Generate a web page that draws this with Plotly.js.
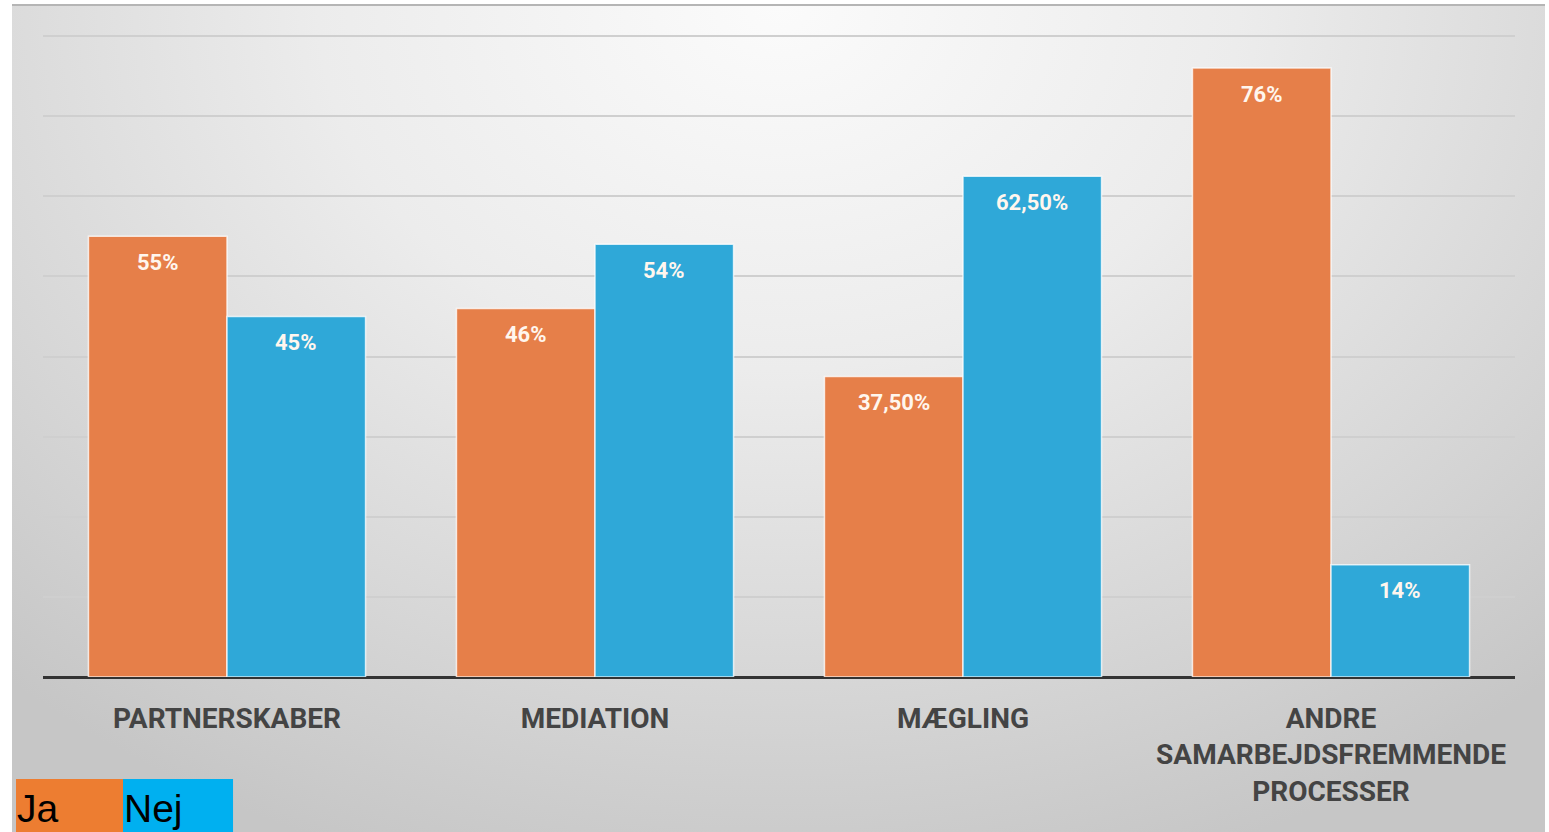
<!DOCTYPE html>
<html>
<head>
<meta charset="utf-8">
<script src="https://cdn.plot.ly/plotly-3.0.1.min.js"></script>
<style>
  html, body { margin: 0; padding: 0; background: #ffffff; }
  #bg { position: absolute; left: 12px; top: 4px; width: 1533px; height: 828px;
        border-top: 2px solid #b5b5b5; box-sizing: border-box;
        background: radial-gradient(ellipse 75% 110% at 50% 0%, #fbfbfb 0%, #ececec 40%, #d6d6d6 75%, #c6c6c6 100%); }
  #chart { position: absolute; left: 0; top: 0; width: 1549px; height: 832px; }
</style>
</head>
<body>
<div id="bg"></div>
<div id="chart"></div>
<script>
const categories = ["PARTNERSKABER", "MEDIATION", "MÆGLING", "ANDRE<br>SAMARBEJDSFREMMENDE<br>PROCESSER"];
const jaValues = [55, 46, 37.5, 76];
const nejValues = [45, 54, 62.5, 14];
const jaLabels = ["55%", "46%", "37,50%", "76%"];
const nejLabels = ["45%", "54%", "62,50%", "14%"];
const seriesNames = ["Ja", "Nej"];

const orange = "#E67F49";
const blue = "#2FA8D8";

const traces = [
  { type: "bar", name: seriesNames[0], x: categories, y: jaValues,
    marker: { color: orange, line: { color: "rgba(255,255,255,0.75)", width: 1.5 } },
    hoverinfo: "none" },
  { type: "bar", name: seriesNames[1], x: categories, y: nejValues,
    marker: { color: blue, line: { color: "rgba(255,255,255,0.75)", width: 1.5 } },
    hoverinfo: "none" }
];

const annotations = [];
const off = 0.188;
categories.forEach((c, i) => {
  annotations.push({ x: i - off, y: jaValues[i], xref: "x", yref: "y", text: "<b>" + jaLabels[i] + "</b>",
    showarrow: false, yanchor: "middle", yshift: -26, font: { family: "Roboto", size: 22, color: "#fff6ee" } });
  annotations.push({ x: i + off, y: nejValues[i], xref: "x", yref: "y", text: "<b>" + nejLabels[i] + "</b>",
    showarrow: false, yanchor: "middle", yshift: -26, font: { family: "Roboto", size: 22, color: "#fff6ee" } });
});

// plot area: y from 32 to 677 (645 px), range 0..80.5
const legTop = (677 - 779) / 645;
const legBot = (677 - 835) / 645;
const legMid = (677 - 808) / 645;

const layout = {
  width: 1549, height: 832,
  margin: { l: 43, r: 34, t: 32, b: 155 },
  paper_bgcolor: "rgba(0,0,0,0)",
  plot_bgcolor: "rgba(0,0,0,0)",
  barmode: "group",
  bargap: 0.247,
  bargroupgap: 0,
  showlegend: false,
  font: { family: "Roboto" },
  xaxis: {
    type: "category",
    showgrid: false,
    ticks: "",
    tickfont: { family: "Roboto", size: 28, color: "#444444", weight: "bold" },
    ticklabelstandoff: 22,
    showline: false
  },
  yaxis: {
    range: [0, 80.5],
    tickvals: [10, 20, 30, 40, 50, 60, 70, 80],
    showticklabels: false,
    showgrid: true,
    gridcolor: "#cfcfcf",
    gridwidth: 2,
    zeroline: true,
    zerolinecolor: "#333333",
    zerolinewidth: 3
  },
  shapes: [
    { type: "rect", xref: "paper", yref: "paper", x0: -0.01834, x1: 0.05435, y0: legTop, y1: legBot,
      fillcolor: "#ED7D31", line: { width: 0 } },
    { type: "rect", xref: "paper", yref: "paper", x0: 0.05435, x1: 0.1291, y0: legTop, y1: legBot,
      fillcolor: "#00B0F0", line: { width: 0 } }
  ],
  annotations: annotations.concat([
    { xref: "paper", yref: "paper", x: -0.0190, y: legMid, xanchor: "left", yanchor: "middle",
      text: seriesNames[0], showarrow: false, font: { family: "Liberation Sans", size: 39, color: "#000" } },
    { xref: "paper", yref: "paper", x: 0.0536, y: legMid, xanchor: "left", yanchor: "middle",
      text: seriesNames[1], showarrow: false, font: { family: "Liberation Sans", size: 39, color: "#000" } }
  ])
};

Plotly.newPlot("chart", traces, layout, { displayModeBar: false, staticPlot: true });
</script>
</body>
</html>
